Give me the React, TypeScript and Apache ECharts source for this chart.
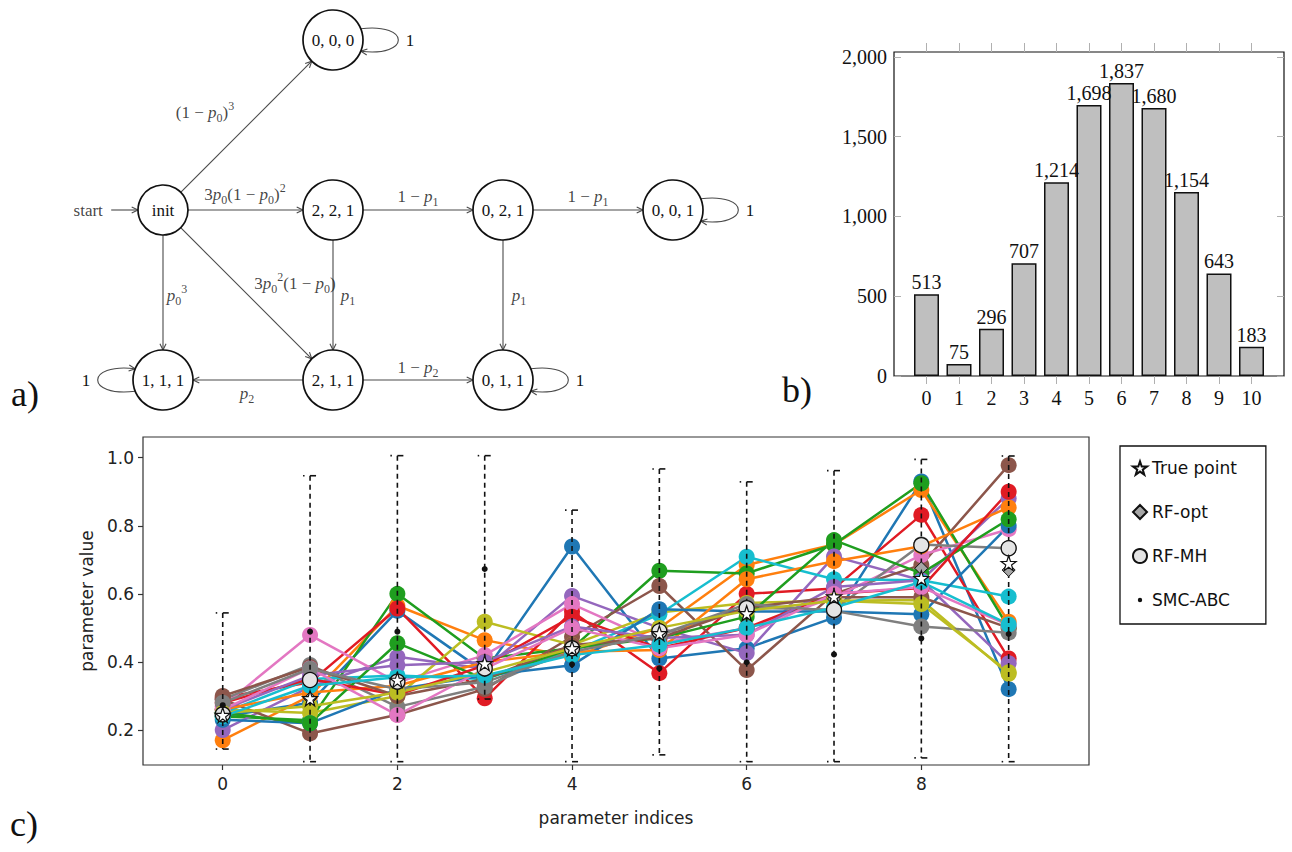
import React, { useEffect, useRef } from "react";
import * as echarts from "echarts";

// ---------------- (a) Markov chain of the allele counts ----------------
const stateNames = ["init", "0, 0, 0", "2, 2, 1", "0, 2, 1", "0, 0, 1", "1, 1, 1", "2, 1, 1", "0, 1, 1"];
const transitions: [string, string, string][] = [
  ["start", "init", ""],
  ["init", "0, 0, 0", "(1 − p_0)^3"],
  ["init", "2, 2, 1", "3p_0(1 − p_0)^2"],
  ["2, 2, 1", "0, 2, 1", "1 − p_1"],
  ["0, 2, 1", "0, 0, 1", "1 − p_1"],
  ["init", "1, 1, 1", "p_0^3"],
  ["init", "2, 1, 1", "3p_0^2(1 − p_0)"],
  ["2, 2, 1", "2, 1, 1", "p_1"],
  ["0, 2, 1", "0, 1, 1", "p_1"],
  ["2, 1, 1", "1, 1, 1", "p_2"],
  ["2, 1, 1", "0, 1, 1", "1 − p_2"],
];
const absorbingStates = ["0, 0, 0", "0, 0, 1", "1, 1, 1", "0, 1, 1"];

// ---------------- (b) histogram ----------------
const binLabels = [0, 1, 2, 3, 4, 5, 6, 7, 8, 9, 10];
const binCounts = [513, 75, 296, 707, 1214, 1698, 1837, 1680, 1154, 643, 183];
const countTicks = [0, 500, 1000, 1500, 2000];

// ---------------- (c) parameter estimates ----------------
const paramIndices = [0, 1, 2, 3, 4, 5, 6, 7, 8, 9];
const indexTicks = [0, 2, 4, 6, 8];
const valueTicks = [0.2, 0.4, 0.6, 0.8, 1.0];
const trueValues = [0.244, 0.293, 0.347, 0.396, 0.44, 0.484, 0.543, 0.592, 0.646, 0.69];
const rfOptValues = [0.244, 0.293, 0.345, 0.39, 0.44, 0.487, 0.55, 0.585, 0.675, 0.67];
const rfMhValues = [0.246, 0.347, 0.342, 0.381, 0.44, 0.49, 0.558, 0.553, 0.743, 0.734];
const smcValues = [0.273, 0.489, 0.489, 0.673, 0.393, 0.381, 0.399, 0.422, 0.469, 0.482];
const smcLower = [0.144, 0.107, 0.107, 0.291, 0.107, 0.127, 0.107, 0.107, 0.118, 0.107];
const smcUpper = [0.544, 0.947, 1.006, 1.006, 0.846, 0.967, 0.929, 0.962, 0.995, 1.005];

const runBlueA = [0.24, 0.28, 0.55, 0.37, 0.739, 0.41, 0.44, 0.53, 0.93, 0.32];
const runOrangeA = [0.17, 0.3, 0.565, 0.464, 0.415, 0.5, 0.685, 0.745, 0.905, 0.518];
const runGreenA = [0.24, 0.229, 0.6, 0.41, 0.44, 0.668, 0.66, 0.745, 0.925, 0.5];
const runRedA = [0.295, 0.34, 0.557, 0.293, 0.548, 0.367, 0.6, 0.616, 0.832, 0.41];
const runPurpleA = [0.2, 0.327, 0.415, 0.38, 0.594, 0.5, 0.426, 0.71, 0.64, 0.88];
const runBrownA = [0.29, 0.19, 0.245, 0.32, 0.474, 0.623, 0.376, 0.6, 0.685, 0.978];
const runPinkA = [0.27, 0.479, 0.34, 0.42, 0.57, 0.455, 0.499, 0.59, 0.714, 0.79];
const runGrayA = [0.29, 0.391, 0.268, 0.327, 0.44, 0.48, 0.56, 0.553, 0.745, 0.734];
const runOliveA = [0.26, 0.25, 0.3, 0.518, 0.45, 0.545, 0.573, 0.58, 0.582, 0.365];
const runCyanA = [0.25, 0.35, 0.36, 0.35, 0.43, 0.54, 0.709, 0.643, 0.64, 0.592];
const runBlueB = [0.23, 0.22, 0.32, 0.36, 0.39, 0.555, 0.548, 0.548, 0.54, 0.8];
const runOrangeB = [0.26, 0.31, 0.33, 0.4, 0.43, 0.435, 0.643, 0.696, 0.74, 0.854];
const runGreenB = [0.25, 0.22, 0.455, 0.35, 0.44, 0.47, 0.533, 0.758, 0.66, 0.819];
const runRedB = [0.28, 0.35, 0.303, 0.39, 0.533, 0.44, 0.5, 0.6, 0.617, 0.9];
const runPurpleB = [0.26, 0.36, 0.39, 0.4, 0.504, 0.47, 0.48, 0.62, 0.64, 0.396];
const runBrownB = [0.3, 0.385, 0.3, 0.35, 0.45, 0.47, 0.56, 0.59, 0.59, 0.5];
const runPinkB = [0.26, 0.381, 0.244, 0.38, 0.5, 0.44, 0.48, 0.6, 0.62, 0.508];
const runGrayB = [0.28, 0.38, 0.32, 0.34, 0.43, 0.48, 0.57, 0.55, 0.504, 0.486];
const runOliveB = [0.25, 0.27, 0.31, 0.37, 0.44, 0.5, 0.55, 0.58, 0.57, 0.37];
const runCyanB = [0.24, 0.33, 0.355, 0.36, 0.42, 0.45, 0.5, 0.56, 0.635, 0.51];

const runs = [
  runBlueA, runOrangeA, runGreenA, runRedA, runPurpleA, runBrownA, runPinkA, runGrayA, runOliveA, runCyanA,
  runBlueB, runOrangeB, runGreenB, runRedB, runPurpleB, runBrownB, runPinkB, runGrayB, runOliveB, runCyanB,
];

// ---------------- styling & layout ----------------
const palette = ["#1f77b4", "#ff7f0e", "#1f9e1f", "#e01b24", "#9467bd", "#8c564b", "#e377c2", "#7f7f7f", "#bcbd22", "#17becf"];
const serif = "'Liberation Serif', 'DejaVu Serif', serif";
const sans = "'DejaVu Sans', sans-serif";
const ink = "#111";
const edgeInk = "#4a4a4a";

// diagram cells: column, row
const stateGrid: Record<string, [number, number]> = {
  start: [-0.44, 1],
  init: [0, 1],
  "0, 0, 0": [1, 0],
  "2, 2, 1": [1, 1],
  "0, 2, 1": [2, 1],
  "0, 0, 1": [3, 1],
  "1, 1, 1": [0, 2],
  "2, 1, 1": [1, 2],
  "0, 1, 1": [2, 2],
};
const nodeRadius = (name: string) => (name === "init" ? 25 : name === "start" ? 23 : 30);
const labelOffsets: [number, number][] = [
  [0, 0], [-43, -13], [-3, -16], [0, -14], [0, -14], [14, 0], [47, -12], [15, 0], [16, 0], [-1, 13], [0, -13],
];
const loopSide: Record<string, number> = { "0, 0, 0": 1, "0, 0, 1": 1, "1, 1, 1": -1, "0, 1, 1": 1 };

const starPath =
  "path://M50,0 L61.8,35.1 L98.1,35.1 L68.8,56.7 L79.4,91 L50,70 L20.6,91 L31.2,56.7 L1.9,35.1 L38.2,35.1 Z";
const dotIconPath = "path://M0,0L0,0M16,16L16,16M5.5,8a2.5,2.5 0 1,0 5,0a2.5,2.5 0 1,0 -5,0z";

// "p_0" -> italic p with subscript 0, "^3" -> superscript 3
function mathRich(src: string): string {
  let out = "";
  let buf = "";
  const flush = () => {
    if (buf) {
      out += `{n|${buf}}`;
      buf = "";
    }
  };
  for (let i = 0; i < src.length; i++) {
    const ch = src[i];
    if (ch === "p") {
      flush();
      out += "{i|p}";
    } else if (ch === "_") {
      flush();
      out += `{sub|${src[++i]}}`;
    } else if (ch === "^") {
      flush();
      out += `{sup|${src[++i]}}`;
    } else {
      buf += ch;
    }
  }
  flush();
  return out;
}

const mathStyles = {
  n: { fontFamily: serif, fontSize: 17, lineHeight: 24, verticalAlign: "middle", color: ink },
  i: { fontFamily: serif, fontStyle: "italic", fontSize: 17, lineHeight: 24, verticalAlign: "middle", color: ink },
  sub: { fontFamily: serif, fontSize: 12, lineHeight: 12, verticalAlign: "bottom", color: ink },
  sup: { fontFamily: serif, fontSize: 12, lineHeight: 12, verticalAlign: "top", color: ink },
};

function arrowHead(tip: number[], ux: number, uy: number, color: string) {
  const L = 7;
  const ang = 0.45;
  const vx = -ux;
  const vy = -uy;
  const rot = (t: number) => [
    tip[0] + L * (vx * Math.cos(t) - vy * Math.sin(t)),
    tip[1] + L * (vx * Math.sin(t) + vy * Math.cos(t)),
  ];
  return {
    type: "polyline",
    shape: { points: [rot(ang), tip, rot(-ang)] },
    style: { stroke: color, lineWidth: 1.1, fill: "none" },
  };
}

function buildOption() {
  const edgeRows = transitions.map(([a, b]) => [
    stateGrid[a][0], stateGrid[a][1], stateGrid[b][0], stateGrid[b][1], nodeRadius(a), nodeRadius(b),
  ]);

  const edgeLabelData: any[] = [
    {
      value: stateGrid.start,
      label: { formatter: "{n|start}" },
    },
  ];
  transitions.forEach(([a, b, text], k) => {
    if (!text) return;
    const mid = [(stateGrid[a][0] + stateGrid[b][0]) / 2, (stateGrid[a][1] + stateGrid[b][1]) / 2];
    edgeLabelData.push({ value: mid, label: { formatter: mathRich(text), offset: labelOffsets[k] } });
  });

  const loopRows = absorbingStates.map((s) => [stateGrid[s][0], stateGrid[s][1], loopSide[s]]);

  const series: any[] = [];

  // ---- (a) edges ----
  series.push({
    type: "custom",
    name: "transitions",
    xAxisIndex: 0,
    yAxisIndex: 0,
    data: edgeRows,
    encode: { x: [0, 2], y: [1, 3] },
    silent: true,
    z: 2,
    renderItem: (_p: any, api: any) => {
      const p = api.coord([api.value(0), api.value(1)]);
      const q = api.coord([api.value(2), api.value(3)]);
      const r1 = api.value(4);
      const r2 = api.value(5);
      const dx = q[0] - p[0];
      const dy = q[1] - p[1];
      const len = Math.hypot(dx, dy);
      const ux = dx / len;
      const uy = dy / len;
      const s = [p[0] + ux * r1, p[1] + uy * r1];
      const t = [q[0] - ux * r2, q[1] - uy * r2];
      return {
        type: "group",
        children: [
          { type: "line", shape: { x1: s[0], y1: s[1], x2: t[0], y2: t[1] }, style: { stroke: edgeInk, lineWidth: 1.1 } },
          arrowHead(t, ux, uy, edgeInk),
        ],
      };
    },
  });

  // ---- (a) self loops of the absorbing states ----
  series.push({
    type: "custom",
    name: "self loops",
    xAxisIndex: 0,
    yAxisIndex: 0,
    data: loopRows,
    encode: { x: 0, y: 1 },
    silent: true,
    z: 2,
    renderItem: (_p: any, api: any) => {
      const c = api.coord([api.value(0), api.value(1)]);
      const side = api.value(2);
      const r = 30;
      const a = (22 * Math.PI) / 180;
      const p0 = [c[0] + side * r * Math.cos(a), c[1] - side * r * Math.sin(a)];
      const p3 = [c[0] + side * r * Math.cos(a), c[1] + side * r * Math.sin(a)];
      const c1 = [p0[0] + side * 50, p0[1] - side * 6];
      const c2 = [p3[0] + side * 50, p3[1] + side * 6];
      const dx = p3[0] - c2[0];
      const dy = p3[1] - c2[1];
      const len = Math.hypot(dx, dy);
      return {
        type: "group",
        children: [
          {
            type: "bezierCurve",
            shape: { x1: p0[0], y1: p0[1], x2: p3[0], y2: p3[1], cpx1: c1[0], cpy1: c1[1], cpx2: c2[0], cpy2: c2[1] },
            style: { stroke: edgeInk, lineWidth: 1.1, fill: "none" },
          },
          arrowHead(p3, dx / len, dy / len, edgeInk),
          {
            type: "text",
            x: c[0] + side * 77,
            y: c[1],
            style: { text: "1", fill: ink, font: `17px ${serif}`, align: "center", verticalAlign: "middle" },
          },
        ],
      };
    },
  });

  // ---- (a) states ----
  series.push({
    type: "scatter",
    name: "states",
    xAxisIndex: 0,
    yAxisIndex: 0,
    silent: true,
    z: 3,
    data: stateNames.map((n) => ({ name: n, value: stateGrid[n], symbolSize: nodeRadius(n) * 2 })),
    symbol: "circle",
    itemStyle: { color: "#fff", borderColor: ink, borderWidth: 1.7, opacity: 1 },
    label: {
      show: true,
      position: "inside",
      formatter: (p: any) => p.name,
      fontFamily: serif,
      fontSize: 17,
      color: ink,
    },
  });

  // ---- (a) transition probabilities ----
  series.push({
    type: "scatter",
    name: "transition labels",
    xAxisIndex: 0,
    yAxisIndex: 0,
    silent: true,
    z: 4,
    symbolSize: 1,
    itemStyle: { color: "rgba(0,0,0,0)" },
    data: edgeLabelData,
    label: { show: true, position: "inside", rich: mathStyles },
  });

  // ---- (b) bars ----
  series.push({
    type: "bar",
    name: "counts",
    xAxisIndex: 1,
    yAxisIndex: 1,
    barWidth: 25,
    data: binLabels.map((b, i) => [b, binCounts[i]]),
    itemStyle: { color: "#bfbfbf", borderColor: ink, borderWidth: 1.5 },
    label: {
      show: true,
      position: "top",
      distance: 2,
      formatter: (p: any) => Number(p.value[1]).toLocaleString("en-US"),
      fontFamily: serif,
      fontSize: 20,
      color: ink,
    },
    silent: true,
  });

  // ---- (c) individual runs ----
  runs.forEach((run, k) => {
    const color = palette[k % 10];
    series.push({
      type: "line",
      name: `run ${k + 1}`,
      xAxisIndex: 3,
      yAxisIndex: 3,
      data: paramIndices.map((x, i) => [x, run[i]]),
      symbol: "circle",
      symbolSize: 16,
      showSymbol: true,
      itemStyle: { color },
      lineStyle: { color, width: 2.5 },
      silent: true,
      z: 2,
    });
  });

  // ---- (c) SMC-ABC ranges ----
  series.push({
    type: "custom",
    name: "SMC-ABC range",
    xAxisIndex: 3,
    yAxisIndex: 3,
    data: paramIndices.map((x, i) => [x, smcLower[i], smcUpper[i]]),
    encode: { x: 0, y: [1, 2] },
    silent: true,
    z: 3,
    renderItem: (_p: any, api: any) => {
      const lo = api.coord([api.value(0), api.value(1)]);
      const hi = api.coord([api.value(0), api.value(2)]);
      const dash = { stroke: ink, lineWidth: 1.6, lineDash: [5, 4] };
      const solid = { stroke: ink, lineWidth: 1.6 };
      const cap = (pt: number[]) => [
        { type: "line", shape: { x1: pt[0] - 7, y1: pt[1], x2: pt[0] - 5.5, y2: pt[1] }, style: solid },
        { type: "line", shape: { x1: pt[0], y1: pt[1], x2: pt[0] + 6, y2: pt[1] }, style: solid },
      ];
      return {
        type: "group",
        children: [
          { type: "line", shape: { x1: hi[0], y1: hi[1], x2: lo[0], y2: lo[1] }, style: dash },
          ...cap(hi),
          ...cap(lo),
        ],
      };
    },
  });

  series.push({
    type: "scatter",
    name: "RF-opt",
    xAxisIndex: 3,
    yAxisIndex: 3,
    data: paramIndices.map((x, i) => [x, rfOptValues[i]]),
    symbol: "diamond",
    symbolSize: 13,
    itemStyle: { color: "#a6a6a6", borderColor: ink, borderWidth: 1, opacity: 1 },
    silent: true,
    z: 4,
  });
  series.push({
    type: "scatter",
    name: "RF-MH",
    xAxisIndex: 3,
    yAxisIndex: 3,
    data: paramIndices.map((x, i) => [x, rfMhValues[i]]),
    symbol: "circle",
    symbolSize: 15,
    itemStyle: { color: "#e4e4e4", borderColor: ink, borderWidth: 1.3, opacity: 1 },
    silent: true,
    z: 5,
  });
  series.push({
    type: "scatter",
    name: "True point",
    xAxisIndex: 3,
    yAxisIndex: 3,
    data: paramIndices.map((x, i) => [x, trueValues[i]]),
    symbol: starPath,
    symbolSize: 15,
    itemStyle: { color: "#fff", borderColor: ink, borderWidth: 1.2, opacity: 1 },
    silent: true,
    z: 6,
  });
  series.push({
    type: "scatter",
    name: "SMC-ABC",
    xAxisIndex: 3,
    yAxisIndex: 3,
    data: paramIndices.map((x, i) => [x, smcValues[i]]),
    symbol: "circle",
    symbolSize: 6,
    itemStyle: { color: ink, opacity: 1 },
    silent: true,
    z: 7,
  });

  const hidden = { show: false };
  const barTickStyle = { color: "#b0b0b0", width: 1 };
  const mplLabel = { fontFamily: sans, fontSize: 17, color: "#222" };
  const noLine = { show: false, onZero: false };

  return {
    animation: false,
    backgroundColor: "#fff",
    grid: [
      { left: 10, top: 6, width: 765, height: 408, show: false },
      { left: 894, top: 52, width: 390, height: 324, show: true, borderColor: ink, borderWidth: 1.2, backgroundColor: "transparent" },
      { left: 143, top: 437, width: 946, height: 328, show: true, borderColor: "#333", borderWidth: 1.2, backgroundColor: "transparent" },
    ],
    xAxis: [
      { gridIndex: 0, type: "value", min: -0.9, max: 3.6, ...hidden },
      {
        gridIndex: 1,
        type: "value",
        min: -1,
        max: 11,
        position: "bottom",
        axisLine: noLine,
        splitLine: { show: false },
        axisTick: { show: true, inside: false, length: 8, customValues: binLabels, lineStyle: barTickStyle },
        axisLabel: { customValues: binLabels, margin: 12, fontFamily: serif, fontSize: 20, color: ink },
      },
      {
        gridIndex: 1,
        type: "value",
        min: -1,
        max: 11,
        position: "top",
        axisLine: noLine,
        splitLine: { show: false },
        axisTick: { show: true, inside: false, length: 9, customValues: binLabels, lineStyle: barTickStyle },
        axisLabel: { show: false },
      },
      {
        gridIndex: 2,
        type: "value",
        min: -0.913,
        max: 9.92,
        position: "bottom",
        axisLine: noLine,
        splitLine: { show: false },
        axisTick: { show: true, inside: false, length: 5, customValues: indexTicks, lineStyle: { color: "#333", width: 1.2 } },
        axisLabel: { customValues: indexTicks, margin: 10, ...mplLabel },
        name: "parameter indices",
        nameLocation: "middle",
        nameGap: 44,
        nameTextStyle: { fontFamily: sans, fontSize: 17, color: "#222" },
      },
    ],
    yAxis: [
      { gridIndex: 0, type: "value", min: -0.2, max: 2.2, inverse: true, ...hidden },
      {
        gridIndex: 1,
        type: "value",
        min: 0,
        max: 2031,
        position: "left",
        axisLine: noLine,
        splitLine: { show: false },
        axisTick: { show: true, inside: true, length: 7, customValues: countTicks, lineStyle: barTickStyle },
        axisLabel: {
          customValues: countTicks,
          margin: 7,
          formatter: (v: number) => v.toLocaleString("en-US"),
          fontFamily: serif,
          fontSize: 20,
          color: ink,
        },
      },
      {
        gridIndex: 1,
        type: "value",
        min: 0,
        max: 2031,
        position: "right",
        axisLine: noLine,
        splitLine: { show: false },
        axisTick: { show: true, inside: true, length: 7, customValues: countTicks, lineStyle: barTickStyle },
        axisLabel: { show: false },
      },
      {
        gridIndex: 2,
        type: "value",
        min: 0.0972,
        max: 1.0608,
        position: "left",
        axisLine: noLine,
        splitLine: { show: false },
        axisTick: { show: true, inside: false, length: 5, customValues: valueTicks, lineStyle: { color: "#333", width: 1.2 } },
        axisLabel: { customValues: valueTicks, margin: 9, formatter: (v: number) => v.toFixed(1), ...mplLabel },
        name: "parameter value",
        nameLocation: "middle",
        nameGap: 48,
        nameRotate: 90,
        nameTextStyle: { fontFamily: sans, fontSize: 17, color: "#222" },
      },
    ],
    legend: {
      left: 1120,
      top: 446,
      orient: "vertical",
      selectedMode: false,
      itemWidth: 14,
      itemHeight: 14,
      itemGap: 24,
      padding: [12, 29, 14, 12],
      borderColor: ink,
      borderWidth: 1.3,
      textStyle: { fontFamily: sans, fontSize: 17, color: ink, lineHeight: 20 },
      data: [
        { name: "True point", icon: starPath },
        { name: "RF-opt", icon: "diamond" },
        { name: "RF-MH", icon: "circle" },
        { name: "SMC-ABC", icon: dotIconPath },
      ],
    },
    graphic: [
      { type: "text", left: 11, top: 376, style: { text: "a)", font: `36px ${serif}`, fill: ink } },
      { type: "text", left: 782, top: 372, style: { text: "b)", font: `36px ${serif}`, fill: ink } },
      { type: "text", left: 10, top: 806, style: { text: "c)", font: `36px ${serif}`, fill: ink } },
    ],
    series,
  };
}

export default function App() {
  const ref = useRef<HTMLDivElement>(null);
  useEffect(() => {
    document.body.style.margin = "0";
    const chart = echarts.init(ref.current as HTMLDivElement, null, { renderer: "svg" });
    chart.setOption(buildOption() as any);
    return () => chart.dispose();
  }, []);
  return <div ref={ref} style={{ width: 1292, height: 852, background: "#fff" }} />;
}
